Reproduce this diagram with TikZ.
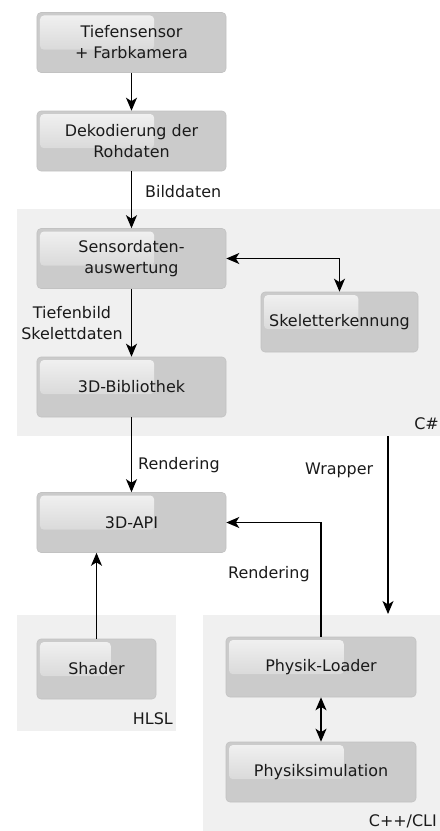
\documentclass[tikz,border=0pt]{standalone}
\usepackage{fontspec}
\setmainfont{DejaVu Sans}
\usetikzlibrary{arrows.meta,calc}
\definecolor{boxgray}{HTML}{CBCBCB}
\definecolor{boxedge}{HTML}{C2C2C2}
\definecolor{layer}{HTML}{F0F0F0}
\definecolor{txt}{HTML}{1A1A1A}

\tikzset{
  block/.style={draw=boxedge, fill=boxgray, rounded corners=4bp, line width=0.6bp,
    minimum height=60bp, align=center, text=txt, inner sep=0pt,
    path picture={
      \shade[rounded corners=4bp, top color=white!75!boxgray, bottom color=boxgray]
        ([xshift=3bp,yshift=-3bp]path picture bounding box.north west) rectangle
        ($(path picture bounding box.north west)!0.62!(path picture bounding box.south east)$);
    }},
  layerbox/.style={fill=layer, draw=none},
  layername/.style={anchor=base east, text=txt, inner sep=0pt},
  tip/.tip={Stealth[length=13bp,width=11bp,inset=3.5bp]},
  flow/.style={-tip, line width=1.3bp},
  both/.style={tip-tip, line width=1.3bp},
  edgetext/.style={text=txt, inner sep=0pt}
}

\begin{document}
\begin{tikzpicture}[x=1bp, y=-1bp, font=\fontsize{16}{21}\selectfont]
      \useasboundingbox (0,0) rectangle (440,831);
      % language layers
      \fill[layerbox] (17,209) rectangle (440,436);
      \fill[layerbox] (17,615) rectangle (176,731);
      \fill[layerbox] (203,615) rectangle (440,831);
      \node[layername] (cs) at (439,429) {C\#};
      \node[layername] (hlsl) at (173,724) {HLSL};
      \node[layername] (cli) at (437,826) {C++/CLI};

      % blocks
      \node[block, minimum width=189bp] (sensor) at (131.5,42.5) {Tiefensensor\\+ Farbkamera};
      \node[block, minimum width=189bp] (dekod) at (131.5,141) {Dekodierung der\\Rohdaten};
      \node[block, minimum width=189bp] (auswert) at (131.5,258.5) {Sensordaten-\\auswertung};
      \node[block, minimum width=157bp] (skelett) at (339.5,322) {Skeletterkennung};
      \node[block, minimum width=189bp] (bib) at (131.5,387) {3D-Bibliothek};
      \node[block, minimum width=189bp] (api) at (131.5,522.5) {3D-API};
      \node[block, minimum width=119bp] (shader) at (96.5,669) {Shader};
      \node[block, minimum width=190bp] (loader) at (321,667) {Physik-Loader};
      \node[block, minimum width=190bp] (simul) at (321,772) {Physiksimulation};

      % connections
      \draw[flow] (sensor) -- (dekod);
      \draw[flow] (dekod) -- (auswert);
      \draw[both] (auswert.east) -| (skelett.north);
      \draw[flow] (auswert) -- (bib);
      \draw[flow] (bib) -- (api);
      \draw[flow] (shader.north) -- (shader.north |- api.south);
      \draw[flow] (loader.north) |- (api.east);
      \draw[both] (loader) -- (simul);
      \coordinate (wraptop) at (388,436);
      \coordinate (wrapend) at (388,614);
      \draw[flow] (wraptop) -- (wrapend);

      % edge labels
      \node[edgetext, anchor=base west] (bild) at (145,197) {Bilddaten};
      \node[edgetext, align=center] (tiefe) at (72,323) {Tiefenbild\\Skelettdaten};
      \node[edgetext, anchor=base west] (rend1) at (138,469) {Rendering};
      \node[edgetext, anchor=base west] (wrap) at (305,474) {Wrapper};
      \node[edgetext, anchor=base west] (rend2) at (228,578) {Rendering};
\end{tikzpicture}
\end{document}
